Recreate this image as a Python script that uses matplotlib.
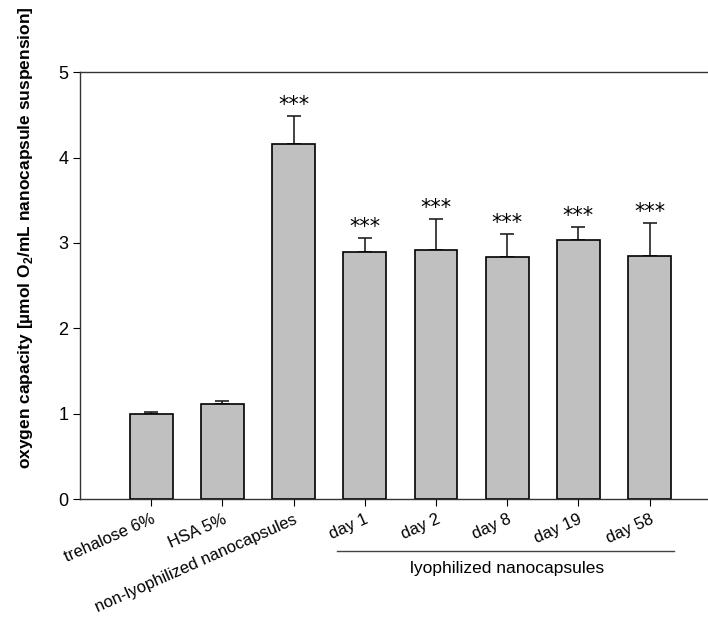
import numpy as np
import matplotlib.pyplot as plt

plt.rcParams['font.family'] = ['Liberation Sans', 'DejaVu Sans']

# data
groups = ['trehalose 6%', 'HSA 5%', 'non-lyophilized nanocapsules',
          'day 1', 'day 2', 'day 8', 'day 19', 'day 58']
means = [1.00, 1.12, 4.16, 2.90, 2.92, 2.84, 3.03, 2.85]
sd = [0.015, 0.03, 0.33, 0.16, 0.36, 0.27, 0.16, 0.38]
signif = ['', '', '***', '***', '***', '***', '***', '***']

fig = plt.figure(figsize=(7.08, 6.17), dpi=100)
ax = fig.add_axes([0.113, 0.191, 0.887, 0.692])

x = np.arange(len(groups))
ax.bar(x, means, width=0.6, color='#c0c0c0', edgecolor='black', linewidth=1.2, zorder=2)
ax.errorbar(x, means, yerr=[np.zeros(len(sd)), sd], fmt='none', ecolor='#222222',
            elinewidth=1.2, capsize=5, capthick=1.2, zorder=1)

for xi, m, s, lab in zip(x, means, sd, signif):
    if lab:
        ax.text(xi, m + s + 0.01, lab, ha='center', va='bottom', fontsize=15,
                family='DejaVu Sans')

ax.set_xlim(-1, 7.82)
ax.set_ylim(0, 5)
ax.set_yticks([0, 1, 2, 3, 4, 5])
ax.set_xticks(x)
ax.set_xticklabels(groups, rotation=24, ha='right', rotation_mode='anchor', fontsize=12)
ax.tick_params(axis='x', direction='out', length=5, pad=4)
ax.tick_params(axis='y', direction='out', length=5, labelsize=13)
ax.spines['right'].set_visible(False)
for sp in ['left', 'top', 'bottom']:
    ax.spines[sp].set_linewidth(1.0)
    ax.spines[sp].set_color('#333333')

ax.set_ylabel('oxygen capacity [µmol O$_\\mathregular{2}$/mL nanocapsule suspension]',
              fontsize=12.5, fontweight='bold')
ax.yaxis.set_label_coords(-0.072, 0.612)

# group bracket under the lyophilized samples
ax.plot([2.61, 7.34], [-0.61, -0.61], color='#444444', linewidth=1, clip_on=False)
ax.text(5.0, -0.72, 'lyophilized nanocapsules', ha='center', va='top', fontsize=12.5)

fig.savefig('out.png', dpi=100)
